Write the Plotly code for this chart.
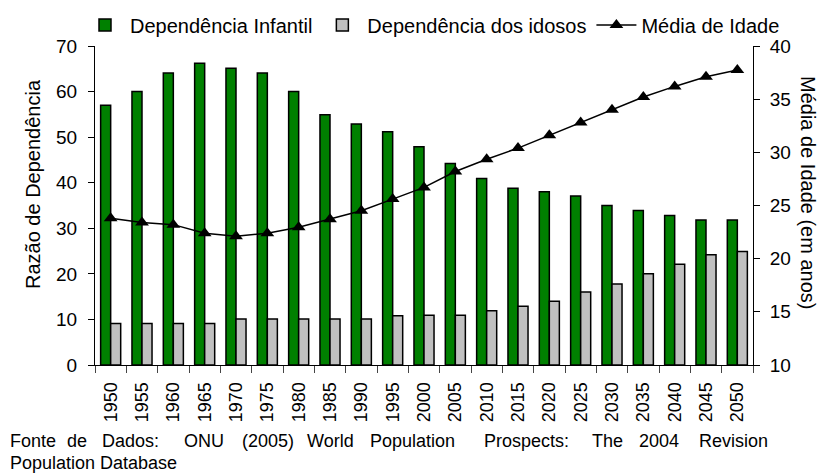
import plotly.graph_objects as go

anos = ["1950", "1955", "1960", "1965", "1970", "1975", "1980", "1985", "1990", "1995", "2000",
        "2005", "2010", "2015", "2020", "2025", "2030", "2035", "2040", "2045", "2050"]
dep_infantil = [57, 60, 64.1, 66.2, 65.1, 64.1, 60, 54.9, 52.9, 51.2, 47.9,
                44.2, 40.9, 38.8, 38.0, 37.1, 35.0, 33.9, 32.8, 31.8, 31.8]
dep_idosos = [9.1, 9.1, 9.1, 9.1, 10.1, 10.1, 10.1, 10.1, 10.1, 10.8, 10.9,
              10.9, 11.9, 12.9, 14.0, 16.0, 17.8, 20.0, 22.1, 24.2, 24.9]
media_idade = [23.8, 23.4, 23.2, 22.4, 22.1, 22.4, 22.95, 23.7, 24.5, 25.6, 26.7,
               28.2, 29.35, 30.4, 31.6, 32.8, 34.0, 35.2, 36.2, 37.1, 37.75]

W, H = 820, 473
L, R, T, B = 95, 67, 46, 108
PW, PH = W - L - R, H - T - B
FONT = "Liberation Sans, Arial, sans-serif"


def px_x(p):
    return (p - L) / PW


def px_y(p):
    return (H - B - p) / PH


fig = go.Figure()
fig.add_trace(go.Bar(x=anos, y=dep_infantil, name="Dependência Infantil",
                     marker=dict(color="#008000", line=dict(color="black", width=1.5))))
fig.add_trace(go.Bar(x=anos, y=dep_idosos, name="Dependência dos idosos",
                     marker=dict(color="#C0C0C0", line=dict(color="black", width=1.5))))
fig.add_trace(go.Scatter(x=anos, y=media_idade, name="Média de Idade", yaxis="y2",
                         mode="lines+markers",
                         line=dict(color="black", width=1.5),
                         marker=dict(symbol="triangle-up", size=12, color="black")))

fig.update_layout(
    width=W, height=H,
    margin=dict(l=L, r=R, t=T, b=B, autoexpand=False),
    paper_bgcolor="white", plot_bgcolor="white",
    font=dict(family=FONT, size=19, color="black"),
    barmode="group", bargap=0.36, bargroupgap=0,
    showlegend=True,
    legend=dict(orientation="h", x=px_x(80), xanchor="left", y=px_y(25), yanchor="middle",
                font=dict(size=20), bgcolor="rgba(0,0,0,0)", itemwidth=40,
                traceorder="normal"),
    xaxis=dict(type="category", range=[-0.5, 20.5], tickangle=-90, tickson="boundaries",
               ticks="outside", ticklen=7, tickcolor="#444", showline=True, linecolor="black",
               linewidth=1, showgrid=False, automargin=False, tickfont=dict(size=18),
               ticklabelstandoff=9),
    yaxis=dict(range=[0, 70], dtick=10, ticks="outside", ticklen=6, tickcolor="black",
               showline=True, linecolor="black", linewidth=1, showgrid=False, zeroline=False,
               automargin=False, tickfont=dict(size=19), ticklabelstandoff=7),
    yaxis2=dict(range=[10, 40], dtick=5, overlaying="y", side="right", ticks="outside",
                ticklen=6, tickcolor="black", showline=True, linecolor="black", linewidth=1,
                showgrid=False, zeroline=False, automargin=False, tickfont=dict(size=19),
                ticklabelstandoff=6),
)

annotations = [
    dict(text="Razão de Dependência", textangle=-90, x=px_x(33), y=px_y(184),
         xanchor="center", yanchor="middle", font=dict(size=20)),
    dict(text="Média de Idade (em anos)", textangle=90, x=px_x(808), y=px_y(192),
         xanchor="center", yanchor="middle", font=dict(size=20)),
]

fonte_palavras = ["Fonte", "de", "Dados:", "ONU", "(2005)", "World", "Population",
                  "Prospects:", "The", "2004", "Revision"]
fonte_x = [8, 65, 100, 182, 240, 305, 368, 482, 590, 637, 697]
for w, xp in zip(fonte_palavras, fonte_x):
    annotations.append(dict(text=w, x=px_x(xp), y=px_y(441), xanchor="left", yanchor="middle",
                            font=dict(size=18)))
annotations.append(dict(text="Population Database", x=px_x(8), y=px_y(463), xanchor="left",
                        yanchor="middle", font=dict(size=18)))

for a in annotations:
    a.update(xref="paper", yref="paper", showarrow=False)
fig.update_layout(annotations=annotations)

fig.write_html("out.html", config={"displayModeBar": False},
               post_script="document.body.style.margin='0';document.body.style.padding='0';")
